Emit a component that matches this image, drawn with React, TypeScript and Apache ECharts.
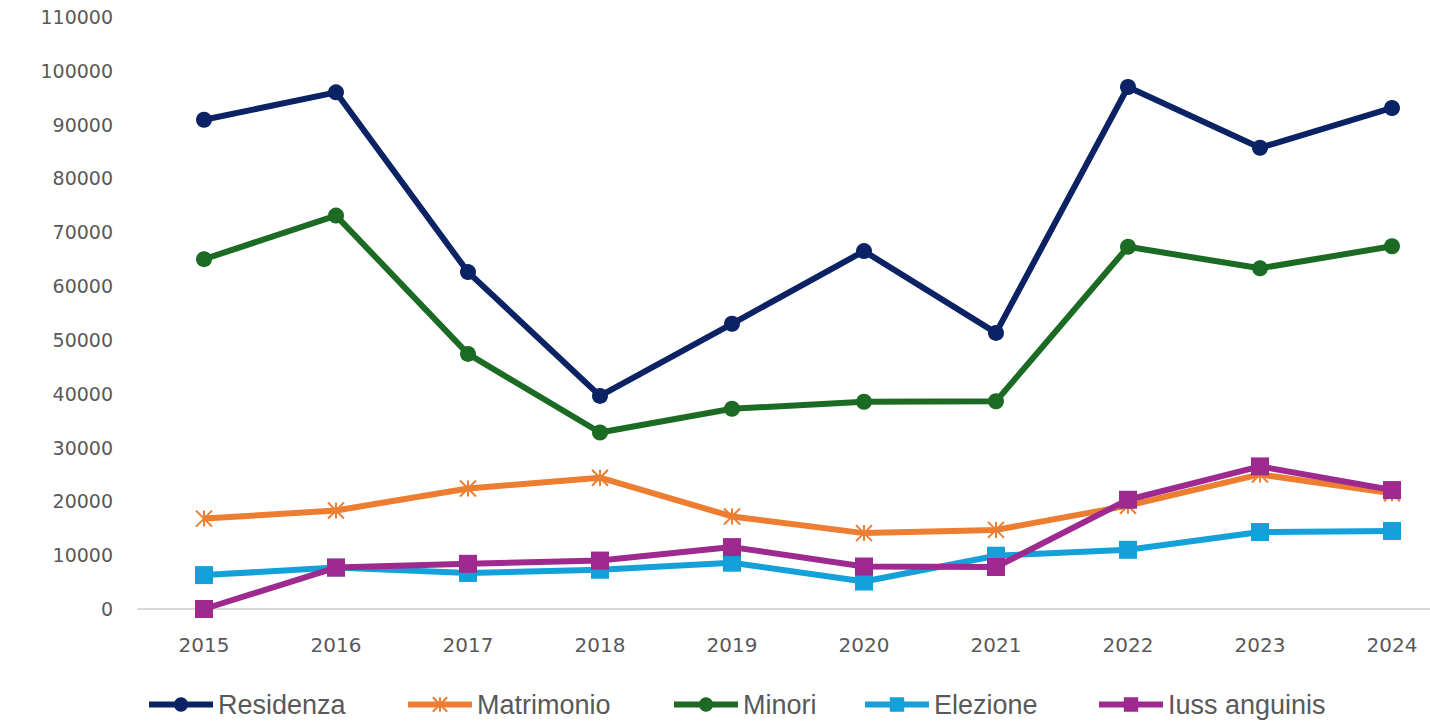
import React, { useEffect, useRef } from "react";
import * as echarts from "echarts";

const years = ["2015", "2016", "2017", "2018", "2019", "2020", "2021", "2022", "2023", "2024"];
const residenza = [90900, 96000, 62600, 39600, 53000, 66500, 51300, 97000, 85700, 93100];
const matrimonio = [16800, 18300, 22400, 24400, 17200, 14100, 14700, 19200, 25000, 21500];
const minori = [65000, 73100, 47400, 32800, 37200, 38500, 38600, 67300, 63300, 67400];
const elezione = [6300, 7700, 6700, 7300, 8600, 5100, 9900, 11000, 14300, 14500];
const iuss = [0, 7700, 8400, 9000, 11500, 7900, 7800, 20300, 26500, 22100];
const seriesNames = ["Residenza", "Matrimonio", "Minori", "Elezione", "Iuss anguinis"];
const yTicksMax = 110000;
const yInterval = 10000;

const starPath = "path://M10,0L10,20M0,0L20,20M0,20L20,0";
const legendLefts = [146, 405, 671, 862, 1096];
const labelFont = "DejaVu Sans, sans-serif";

export default function App() {
  const ref = useRef<HTMLDivElement>(null);
  useEffect(() => {
    if (!ref.current) return;
    const chart = echarts.init(ref.current, null, { renderer: "svg" });
    const mk = (name: string, data: number[], color: string, symbol: string, size: number, extra: any = {}) => ({
      name,
      type: "line",
      data,
      symbol,
      symbolSize: size,
      lineStyle: { color, width: 6 },
      itemStyle: { color, ...(extra.itemStyle || {}) },
      z: extra.z || 2,
    });
    chart.setOption({
      animation: false,
      grid: { left: 138, top: 17, height: 592, width: 1320, outerBoundsMode: "none", containLabel: false },
      xAxis: {
        type: "category",
        data: years,
        boundaryGap: true,
        axisLine: { lineStyle: { color: "#d9d9d9", width: 2 } },
        axisTick: { show: false },
        axisLabel: { color: "#595959", fontSize: 20, fontFamily: labelFont, margin: 26 },
      },
      yAxis: {
        type: "value",
        min: 0,
        max: yTicksMax,
        interval: yInterval,
        splitLine: { show: false },
        axisLine: { show: false },
        axisTick: { show: false },
        axisLabel: {
          color: "#595959",
          fontSize: 19,
          fontFamily: labelFont,
          margin: 25,
          formatter: (v: number) => String(v),
        },
      },
      legend: seriesNames.map((n, i) => ({
        left: legendLefts[i],
        top: 691,
        padding: 0,
        itemWidth: 64,
        itemHeight: 18,
        lineStyle: { width: 6 },
        textStyle: { color: "#595959", fontSize: 27, fontFamily: "Liberation Sans, sans-serif" },
        data: [n],
      })),
      series: [
        mk("Residenza", residenza, "#0b2265", "circle", 16),
        mk("Matrimonio", matrimonio, "#ed7d31", starPath, 16, { itemStyle: { borderColor: "#ed7d31", borderWidth: 2 } }),
        mk("Minori", minori, "#1c6b25", "circle", 16),
        mk("Elezione", elezione, "#14a0d9", "rect", 18),
        mk("Iuss anguinis", iuss, "#9e2a8f", "rect", 18, { z: 3 }),
      ],
    });
    return () => chart.dispose();
  }, []);
  return (
    <div
      ref={ref}
      style={{ position: "fixed", left: 0, top: 0, width: 1430, height: 722, background: "#fff" }}
    />
  );
}
